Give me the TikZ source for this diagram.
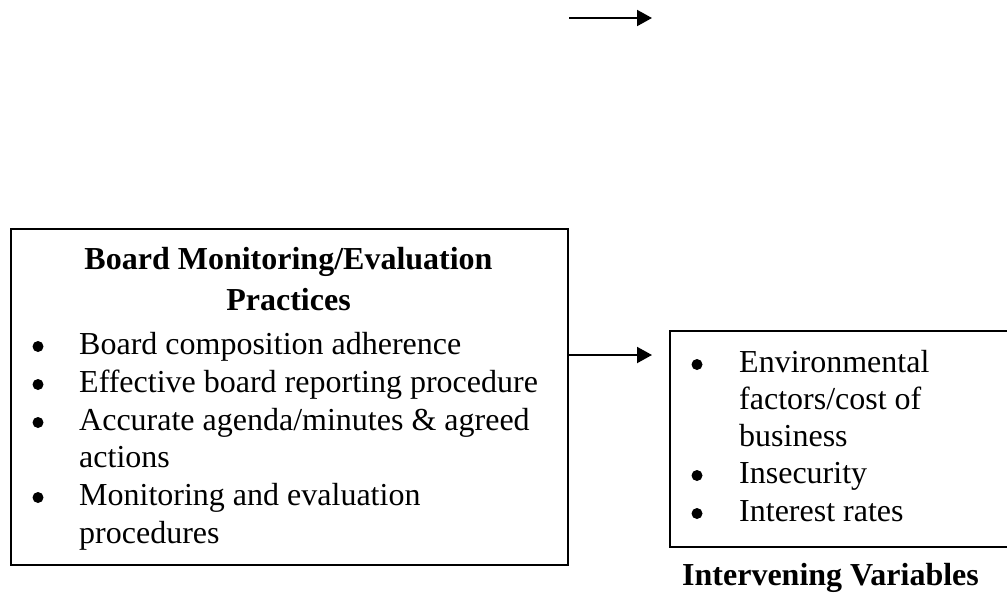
\documentclass[tikz,border=0pt]{standalone}
\usepackage{fontspec}
\setmainfont{Liberation Serif}
\usetikzlibrary{arrows.meta}
\tikzset{
  box/.style={draw=black, line width=1.8pt, inner sep=0pt, fill=none},
  txt/.style={inner sep=0pt, anchor=base west, font=\fontsize{32}{38}\selectfont},
  ttl/.style={inner sep=0pt, anchor=base, font=\fontsize{32}{38}\selectfont\bfseries},
  bul/.style={fill=black, draw=none},
  arr/.style={line width=2pt, -{Triangle[length=15pt,width=16pt]}}
}
\begin{document}
\begin{tikzpicture}[x=1pt,y=-1pt]
\useasboundingbox (0,0) rectangle (1007,592);
% top arrow
\coordinate (ta) at (569,18);
\coordinate (tb) at (652,18);
\draw[arr] (ta) -- (tb);
% left box
\node[box, anchor=north west, minimum width=557pt, minimum height=336pt] (lbox) at (10,228) {};
\node[ttl] (t1) at (288.5,269) {Board Monitoring/Evaluation};
\node[ttl] (t2) at (288.5,310) {Practices};
\foreach \y in {354,392,430,505}{
  \fill[bul] (38,\y-7.5) circle (5.5pt);
}
\node[txt] (a1) at (79,354) {Board composition adherence};
\node[txt] (a2) at (79,392) {Effective board reporting procedure};
\node[txt] (a3) at (79,430) {Accurate agenda/minutes \& agreed};
\node[txt] (a3b) at (79,467.5) {actions};
\node[txt] (a4) at (79,505) {Monitoring and evaluation};
\node[txt] (a4b) at (79,543) {procedures};
% right box
\node[box, anchor=north west, minimum width=345pt, minimum height=216pt] (rbox) at (669,330) {};
\foreach \y in {372,483,521}{
  \fill[bul] (697,\y-7.5) circle (5.5pt);
}
\node[txt] (b1) at (739,372) {Environmental};
\node[txt] (b1b) at (739,409) {factors/cost of};
\node[txt] (b1c) at (739,446) {business};
\node[txt] (b2) at (739,483) {Insecurity};
\node[txt] (b3) at (739,521) {Interest rates};
\node[ttl, anchor=base west] (iv) at (682,585) {Intervening Variables};
% connector
\coordinate (ay) at (0,355);
\draw[arr, shorten >=17pt] (lbox.east |- ay) -- (rbox.west |- ay);
\end{tikzpicture}
\end{document}
